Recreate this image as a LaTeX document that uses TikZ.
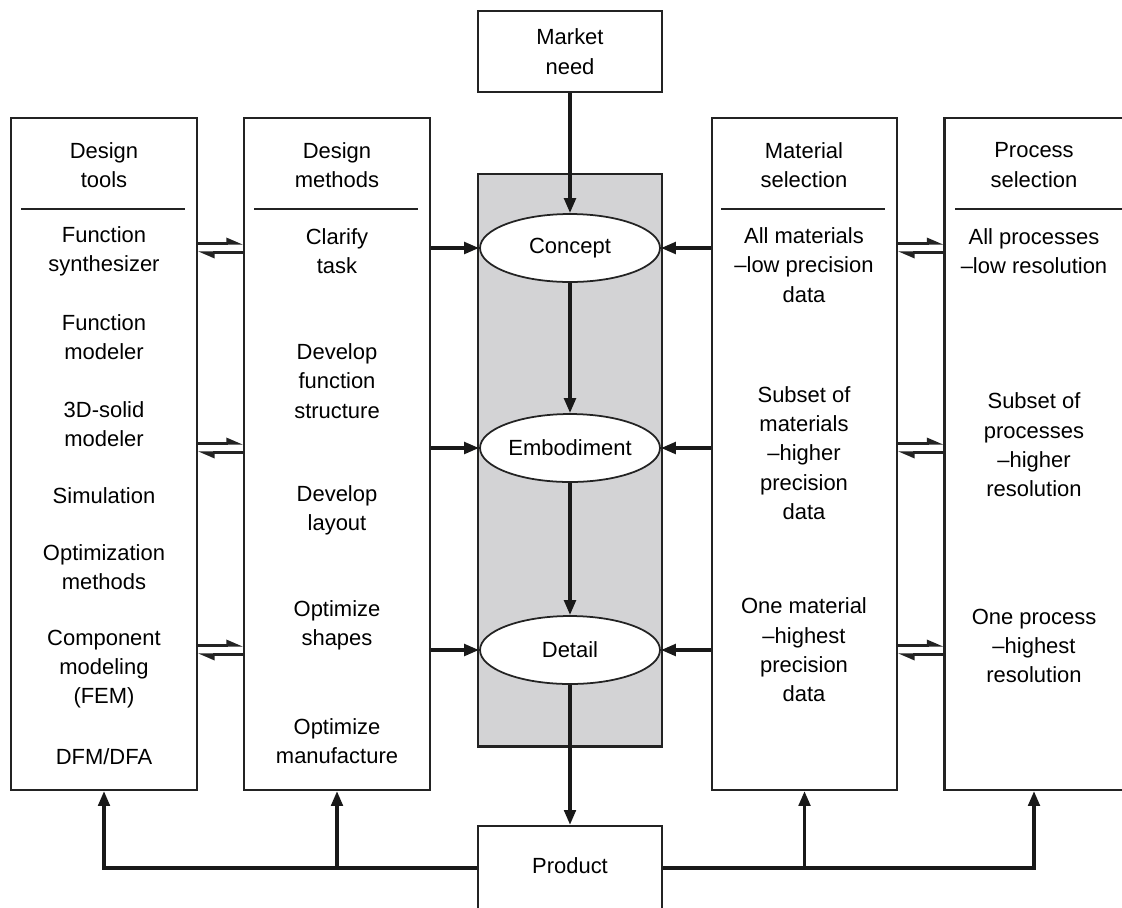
\documentclass[tikz,border=0pt]{standalone}
\usepackage{fontspec}
\setmainfont{Liberation Sans}
\usepackage{tikz}
\usetikzlibrary{arrows.meta,shapes.geometric,calc}
\definecolor{linegray}{RGB}{35,35,35}
\definecolor{stagefill}{RGB}{211,211,213}
\tikzset{
  font={\fontsize{12.5pt}{16.7pt}\selectfont},
  colbox/.style={draw=linegray, line width=1.2pt, inner sep=0pt},
  txt/.style={align=center, inner sep=0pt},
  stage/.style={ellipse, draw=linegray, line width=1pt, fill=white,
    minimum width=3.6cm, minimum height=1.36cm, inner sep=0pt},
  arr/.style={draw=black!90, line width=2pt, -{Triangle[length=8.5pt,width=6.5pt]}},
  harp/.style={draw=linegray, line width=1.2pt, -{Triangle[left,length=8pt,width=6.5pt]}},
  rule/.style={draw=linegray, line width=1.2pt}}

\begin{document}
\begin{tikzpicture}[x=0.02cm,y=-0.02cm]
\useasboundingbox (0,0) rectangle (1122,907);
% columns
\node[colbox, minimum width=3.72cm, minimum height=13.44cm] (tools) at (104,454) {};
\node[colbox, minimum width=3.72cm, minimum height=13.44cm] (methods) at (337,454) {};
\node[colbox, minimum width=3.7cm, minimum height=13.44cm] (material) at (804.5,454) {};
\node[colbox, minimum width=3.9cm, minimum height=13.44cm] (process) at (1042,454) {};
\coordinate (pcol) at (1034,0);
% central panel
\node[colbox, fill=stagefill, minimum width=3.68cm, minimum height=11.46cm] (panel) at (570,460) {};
\node[colbox, fill=white, minimum width=3.68cm, minimum height=1.62cm] (need) at (570,51.5) {};
\node[txt] at (need) {Market\\need};
\node[colbox, fill=white, minimum width=3.68cm, minimum height=1.68cm] (product) at (570,868) {};
\node[txt] at (570,866) {Product};
\node[stage] (concept) at (570,248) {Concept};
\node[stage] (embodiment) at (570,448) {Embodiment};
\node[stage] (detail) at (570,650) {Detail};
% headers
\node[txt] (toolshead) at (104,165) {Design\\tools};
\node[txt] (methodshead) at (337,165) {Design\\methods};
\node[txt] (materialhead) at (804,165) {Material\\selection};
\node[txt] (processhead) at (1034,165) {Process\\selection};
\draw[rule] (21,209) -- (185,209);
\draw[rule] (254,209) -- (418,209);
\draw[rule] (721,209) -- (885,209);
\draw[rule] (955,209) -- (1122,209);
% design tools
\node[txt] at (104,251) {Function\\synthesizer};
\node[txt] at (104,337) {Function\\modeler};
\node[txt] at (104,424) {3D-solid\\modeler};
\node[txt] at (104,496) {Simulation};
\node[txt] at (104,567) {Optimization\\methods};
\node[txt] at (104,669) {Component\\modeling\\(FEM)};
\node[txt] at (104,757) {DFM/DFA};
% design methods
\node[txt] at (337,251) {Clarify\\task};
\node[txt] at (337,381) {Develop\\function\\structure};
\node[txt] at (337,510) {Develop\\layout};
\node[txt] at (337,625) {Optimize\\shapes};
\node[txt] at (337,741) {Optimize\\manufacture};
% material selection
\node[txt] at (804,265) {All materials\\--low precision\\data};
\node[txt] at (804,453) {Subset of\\materials\\--higher\\precision\\data};
\node[txt] at (804,650) {One material\\--highest\\precision\\data};
% process selection
\node[txt] at (1034,251) {All processes\\--low resolution};
\node[txt] at (1034,445) {Subset of\\processes\\--higher\\resolution};
\node[txt] at (1034,646) {One process\\--highest\\resolution};
% main flow
\draw[arr] (need) -- (concept);
\draw[arr] (concept) -- (embodiment);
\draw[arr] (embodiment) -- (detail);
\draw[arr] (detail) -- (product);
\foreach \s in {concept,embodiment,detail}{
  \draw[arr] (methods.east |- \s.west) -- (\s.west);
  \draw[arr] (material.west |- \s.east) -- (\s.east);
  \draw[harp] ($(tools.east |- \s)+(0,-4.5)$) -- ($(methods.west |- \s)+(0,-4.5)$);
  \draw[harp] ($(methods.west |- \s)+(0,4.5)$) -- ($(tools.east |- \s)+(0,4.5)$);
  \draw[harp] ($(material.east |- \s)+(0,-4.5)$) -- ($(process.west |- \s)+(0,-4.5)$);
  \draw[harp] ($(process.west |- \s)+(0,4.5)$) -- ($(material.east |- \s)+(0,4.5)$);
}
% feedback from product
\draw[arr] (product.west) -| (tools.south);
\draw[arr] (methods.south |- product.west) -- (methods.south);
\draw[arr] (product.east) -| (pcol |- process.south);
\draw[arr] (material.south |- product.east) -- (material.south);
\end{tikzpicture}
\end{document}
